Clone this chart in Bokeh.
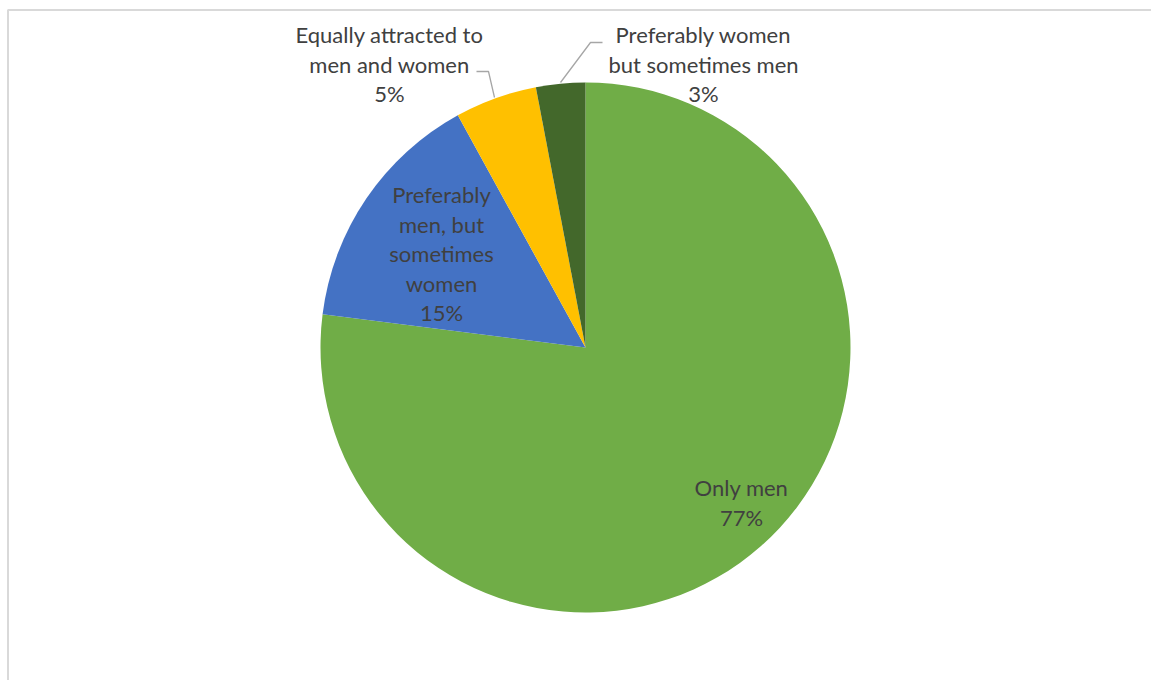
import math
from bokeh.plotting import figure
from bokeh.models import Range1d, ColumnDataSource
from bokeh.core.properties import value
from bokeh.embed import file_html
from bokeh.resources import INLINE

# ---- data ----
categories = ["Only men",
              "Preferably men, but sometimes women",
              "Equally attracted to men and women",
              "Preferably women but sometimes men"]
percents = [77, 15, 5, 3]
colors = ["#70AD47", "#4472C4", "#FFC000", "#43682B"]
label_lines = [["Only men"],
               ["Preferably", "men, but", "sometimes", "women"],
               ["Equally attracted to", "men and women"],
               ["Preferably women", "but sometimes men"]]

W, H = 1151, 680
p = figure(width=W, height=H, output_backend="svg", toolbar_location=None,
           x_range=Range1d(0, W), y_range=Range1d(0, H), min_border=0)
p.axis.visible = False
p.grid.visible = False
p.outline_line_color = None
p.background_fill_color = "white"
p.border_fill_color = "white"

def px(x):  # page x -> data x
    return x

def py(y):  # page y -> data y
    return H - y

# frame (top and left edges visible in the window)
p.line([px(7.5), px(7.5), W], [0, py(9.5), py(9.5)], line_color="#D9D9D9", line_width=2)

cx, cy, r = px(585), py(347), 265
total = sum(percents)
starts, ends = [], []
cum = 0.0
for v in percents:
    starts.append(math.pi / 2 - 2 * math.pi * cum / total)
    cum += v
    ends.append(math.pi / 2 - 2 * math.pi * cum / total)

src = ColumnDataSource(dict(start=starts, end=ends, color=colors))
p.wedge(x=cx, y=cy, radius=r, start_angle="start", end_angle="end",
        direction="clock", fill_color="color", line_color="white",
        line_width=0, line_alpha=0, source=src)

# leader lines
p.line([px(476), px(488), px(494)], [py(71), py(71), py(97)],
       line_color="#A6A6A6", line_width=1.3)
p.line([px(602), px(590), px(560)], [py(42), py(42), py(82)],
       line_color="#A6A6A6", line_width=1.3)

# labels: (center x, first line y) in page coords
anchors = [(741, 487), (441, 194), (389, 34), (703, 34)]
spacing = 29.5
tx, ty, tt = [], [], []
for lines, v, (ax, ay) in zip(label_lines, percents, anchors):
    allines = lines + [f"{v}%"]
    for i, s in enumerate(allines):
        tx.append(px(ax))
        ty.append(py(ay + i * spacing))
        tt.append(s)
p.text(x=tx, y=ty, text=tt, text_align="center", text_baseline="middle",
       text_font=value("Lato"), text_font_size="22px", text_color="#404040")

open("out.html", "w").write(file_html(p, INLINE))
